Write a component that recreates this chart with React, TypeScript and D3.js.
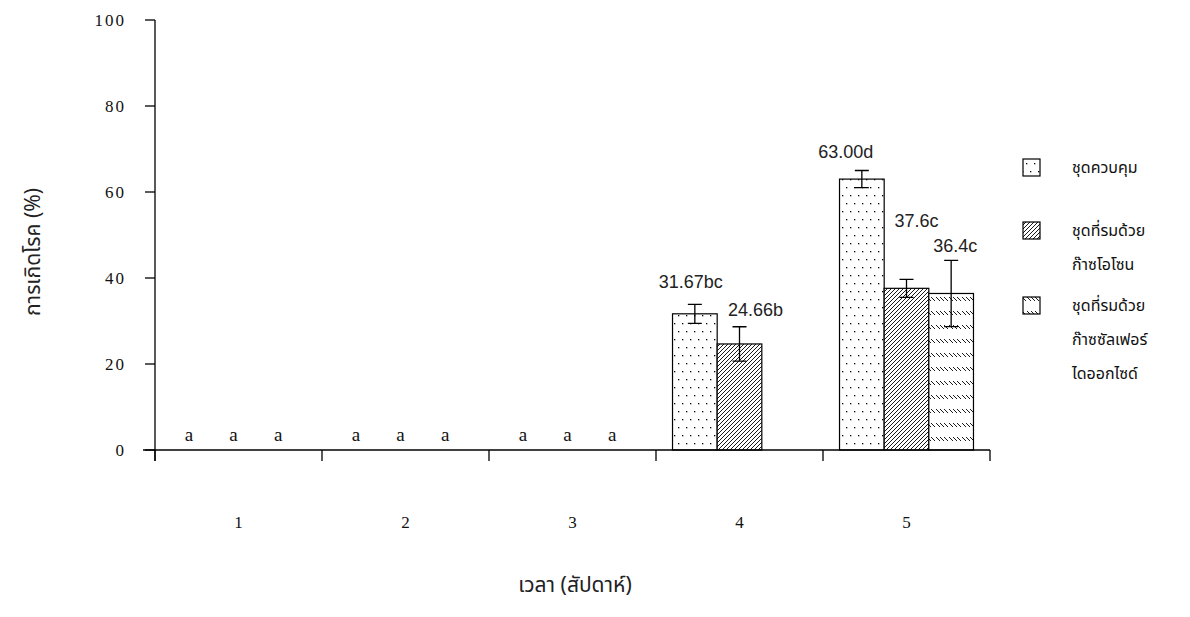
import React from "react";
import * as d3 from "d3";

// weeks on the x axis
const weeks = ["1", "2", "3", "4", "5"];
const seriesNames = ["ชุดควบคุม", "ชุดที่รมด้วยก๊าซโอโซน", "ชุดที่รมด้วยก๊าซซัลเฟอร์ไดออกไซด์"];

// disease incidence (%) per week
const control = [0, 0, 0, 31.67, 63.0];
const ozone = [0, 0, 0, 24.66, 37.6];
const so2 = [0, 0, 0, 0, 36.4];

// error bar half-lengths
const controlErr = [0, 0, 0, 2.2, 2.0];
const ozoneErr = [0, 0, 0, 4.0, 2.1];
const so2Err = [0, 0, 0, 0, 7.7];

// significance letters
const controlLetters = ["a", "a", "a", "bc", "d"];
const ozoneLetters = ["a", "a", "a", "b", "c"];
const so2Letters = ["a", "a", "a", "", "c"];

// printed value labels
const controlText = ["", "", "", "31.67", "63.00"];
const ozoneText = ["", "", "", "24.66", "37.6"];
const so2Text = ["", "", "", "", "36.4"];

const yTicks = [0, 20, 40, 60, 80, 100];

const legendLines = [["ชุดควบคุม"], ["ชุดที่รมด้วย", "ก๊าซโอโซน"], ["ชุดที่รมด้วย", "ก๊าซซัลเฟอร์", "ไดออกไซด์"]];

const W = 1190;
const H = 617;
const thai = "'Noto Sans Thai', 'Tahoma', 'DejaVu Sans', sans-serif";

// hand placement of the value labels (the original was laid out by hand)
const labelNudge: Record<string, [number, number]> = {
  "0-3": [-4, -16],
  "1-3": [16, -11],
  "0-4": [-16, -13],
  "1-4": [10, -52],
  "2-4": [4, -8],
};

export default function App() {
  const x = d3.scaleBand().domain(weeks).range([155, 990]).padding(0);
  const inner = d3.scaleBand().domain(["0", "1", "2"]).range([0, x.bandwidth()]).paddingInner(0).paddingOuter(0.37);
  const y = d3.scaleLinear().domain([0, 100]).range([450, 20]);

  const series = [
    { vals: control, err: controlErr, letters: controlLetters, text: controlText, fill: "url(#dots)" },
    { vals: ozone, err: ozoneErr, letters: ozoneLetters, text: ozoneText, fill: "url(#hatch)" },
    { vals: so2, err: so2Err, letters: so2Letters, text: so2Text, fill: "url(#dash)" },
  ];

  const ticksX = weeks.map((w) => x(w)!).concat([x.range()[1]]);

  return (
    <svg width={W} height={H} style={{ position: "absolute", left: 0, top: 0, background: "#fff" }}>
      <defs>
        <pattern id="dots" width={8} height={16} patternUnits="userSpaceOnUse">
          <rect width={8} height={16} fill="#fff" />
          <rect x={2} y={3} width={1.3} height={1.3} fill="#000" />
          <rect x={6} y={11} width={1.3} height={1.3} fill="#000" />
        </pattern>
        <pattern id="hatch" width={4} height={4} patternUnits="userSpaceOnUse">
          <rect width={4} height={4} fill="#fff" />
          <path d="M-1,1 l2,-2 M0,4 l4,-4 M3,5 l2,-2" stroke="#000" strokeWidth={0.9} />
        </pattern>
        <pattern id="dash" width={13} height={14} patternUnits="userSpaceOnUse">
          <rect width={13} height={14} fill="#fff" />
          <path d="M0,3 l4,4 M4,3 l4,4 M8,3 l4,4" stroke="#000" strokeWidth={0.9} />
        </pattern>
      </defs>

      {/* bars */}
      {series.map((s, si) =>
        weeks.map((w, wi) => {
          const v = s.vals[wi];
          const bx = x(w)! + inner(String(si))!;
          const bw = inner.bandwidth();
          const cx = bx + bw / 2;
          const out: React.ReactNode[] = [];
          if (v > 0) {
            out.push(
              <rect key="b" x={bx} y={y(v)} width={bw} height={y(0) - y(v)} fill={s.fill} stroke="#000" strokeWidth={1.2} />
            );
            const e = s.err[wi];
            out.push(
              <path
                key="e"
                d={`M${cx},${y(v + e)}V${y(v - e)}M${cx - 7},${y(v + e)}h14M${cx - 7},${y(v - e)}h14`}
                stroke="#000"
                strokeWidth={1.3}
                fill="none"
              />
            );
            const nudge = labelNudge[`${si}-${wi}`] || [0, -8];
            out.push(
              <text
                key="t"
                x={cx + nudge[0]}
                y={y(v + e) + nudge[1]}
                textAnchor="middle"
                fontFamily="'Liberation Sans', Arial, sans-serif"
                fontSize={18}
                fill="#222"
              >
                {s.text[wi] + s.letters[wi]}
              </text>
            );
          } else if (s.letters[wi]) {
            out.push(
              <text
                key="a"
                x={cx - 5}
                y={y(0) - 9}
                textAnchor="middle"
                fontFamily="'Liberation Serif', serif"
                fontSize={19}
                fill="#111"
              >
                {s.letters[wi]}
              </text>
            );
          }
          return <g key={`${si}-${wi}`}>{out}</g>;
        })
      )}

      {/* axes */}
      <g stroke="#000" strokeWidth={1.3} fill="none">
        <line x1={155} x2={155} y1={y(100)} y2={461} />
        <line x1={143} x2={990} y1={y(0)} y2={y(0)} />
        {yTicks.map((t) => (
          <line key={t} x1={145} x2={155} y1={y(t)} y2={y(t)} />
        ))}
        {ticksX.map((t, i) => (
          <line key={i} x1={t} x2={t} y1={y(0)} y2={461} />
        ))}
      </g>
      {yTicks.map((t) => (
        <text
          key={t}
          x={126}
          y={y(t) + 6}
          textAnchor="end"
          fontFamily="'Liberation Serif', serif"
          fontSize={17}
          letterSpacing={2}
          fill="#111"
        >
          {t}
        </text>
      ))}
      {weeks.map((w) => (
        <text
          key={w}
          x={x(w)! + x.bandwidth() / 2}
          y={528}
          textAnchor="middle"
          fontFamily="'Liberation Serif', serif"
          fontSize={17}
          fill="#111"
        >
          {w}
        </text>
      ))}

      {/* axis titles */}
      <text x={575} y={592} textAnchor="middle" fontFamily={thai} fontSize={21} fill="#222">
        เวลา (สัปดาห์)
      </text>
      <text
        transform={`translate(40,252) rotate(-90)`}
        textAnchor="middle"
        fontFamily={thai}
        fontSize={21}
        fill="#222"
      >
        การเกิดโรค (%)
      </text>

      {/* legend */}
      {seriesNames.map((name, i) => {
        const top = [159, 222, 297][i];
        return (
          <g key={name}>
            <rect x={1023} y={top} width={17} height={17} fill={series[i].fill} stroke="#000" strokeWidth={1.2} />
            {legendLines[i].map((line, j) => (
              <text key={j} x={1072} y={top + 14 + j * 34} fontFamily={thai} fontSize={16} fill="#111">
                {line}
              </text>
            ))}
          </g>
        );
      })}
    </svg>
  );
}
